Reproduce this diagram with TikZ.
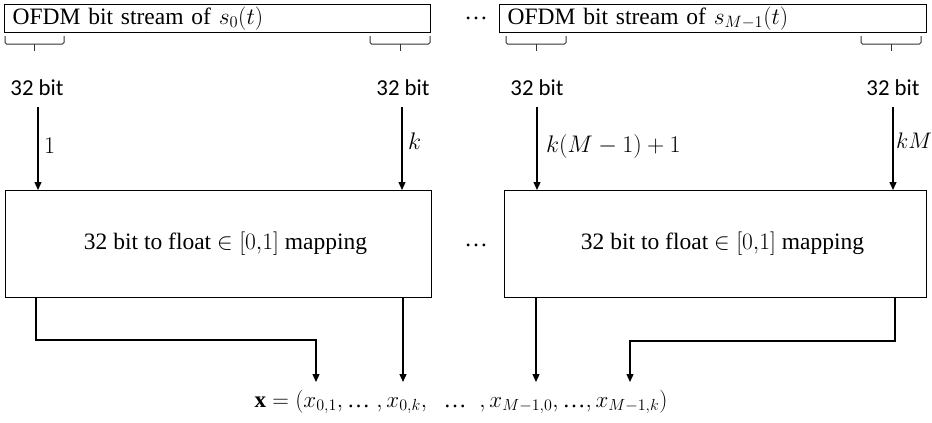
\RequirePackage{fix-cm}
\documentclass[tikz,border=0pt]{standalone}
\usepackage{fontspec}
\setmainfont{Liberation Serif}
\newfontfamily\bitfont{Carlito}
\usetikzlibrary{arrows.meta}

\begin{document}
\begin{tikzpicture}[x=1pt,y=-1pt,
  box/.style={draw, line width=1.1pt, inner sep=0pt, anchor=north west},
  topbox/.style={box, minimum height=28pt, align=left, inner xsep=8pt},
  mapbox/.style={box, minimum height=107pt},
  conn/.style={line width=1.2pt, -{Triangle[length=8pt,width=7pt]}},
  brace/.style={line width=1pt, draw=black!80, rounded corners=1.5pt},
  bitlbl/.style={font=\bitfont\fontsize{22.8}{26}\selectfont, inner sep=0pt},
  txt/.style={font=\fontsize{23.5}{28}\selectfont},
  idx/.style={font=\fontsize{24}{28}\selectfont, inner sep=0pt, anchor=west},
]
\useasboundingbox (0,0) rectangle (932,423);

% bit streams
\node[topbox, txt, minimum width=426pt, text width=410pt] (s0) at (4,4)
  {OFDM bit stream of $s_0(t)$};
\node[topbox, txt, minimum width=427pt, text width=411pt] (s1) at (499,4)
  {OFDM bit stream of $s_{M-1}(t)$};
\node[txt, inner sep=0pt] (dtop) at (476,18) {…};

% 32-bit braces under the streams
\foreach \l/\r/\n in {5/64/b1, 370/430/b2, 506/566/b3, 861/921/b4}{
  \draw[brace] (\l,36) -- (\l,44) -- (\r,44) -- (\r,36);
  \draw[brace] ({(\l+\r)/2},44) -- ({(\l+\r)/2},51);
  \coordinate (\n) at ({(\l+\r)/2},51);
}
\node[bitlbl] (w1) at (37,88) {32 bit};
\node[bitlbl] (w2) at (403,88) {32 bit};
\node[bitlbl] (w3) at (537,88) {32 bit};
\node[bitlbl] (w4) at (893,88) {32 bit};

% mapping blocks
\node[mapbox, minimum width=426pt] (m0) at (5,190) {};
\node[mapbox, minimum width=422pt] (m1) at (504,190) {};
\node[txt, inner sep=0pt] (m0t) at ([xshift=7pt]m0.center)
  {32 bit to float $\in [0{,}1]$ mapping};
\node[txt, inner sep=0pt] (m1t) at ([xshift=7pt]m1.center)
  {32 bit to float $\in [0{,}1]$ mapping};
\node[txt, inner sep=0pt] (dmid) at (476,245) {…};

% inputs of the mapping blocks
\coordinate (a1) at (38,107);
\coordinate (a2) at (402,107);
\coordinate (a3) at (537,107);
\coordinate (a4) at (893,107);
\draw[conn] (a1) -- (a1 |- m0.north);
\draw[conn] (a2) -- (a2 |- m0.north);
\draw[conn] (a3) -- (a3 |- m1.north);
\draw[conn] (a4) -- (a4 |- m1.north);
\node[idx] (i1) at (44,146) {$1$};
\node[idx] (i2) at (408,141) {$k$};
\node[idx] (i3) at (546,146) {$k(M-1)+1$};
\node[idx, font=\fontsize{22.5}{27}\selectfont] (i4) at (896,141) {$kM$};

% output vector
\node[font=\fontsize{23}{27}\selectfont, inner sep=0pt] (vec) at (461,402)
  {$\mathbf{x}=(x_{0,1},\mbox{…}\;,x_{0,k},\;\;\mbox{…}\;\;,x_{M-1,0},\mbox{…},x_{M-1,k})$};

\coordinate (o1) at (36,297);
\coordinate (o2) at (403,297);
\coordinate (o3) at (536,297);
\coordinate (o4) at (895,297);
\coordinate (t1) at (316,382);
\coordinate (t2) at (403,382);
\coordinate (t3) at (536,382);
\coordinate (t4) at (630,382);
\draw[conn] (o1) -- ++(0,43) -| (t1);
\draw[conn] (o2) -- (t2);
\draw[conn] (o3) -- (t3);
\draw[conn] (o4) -- ++(0,44) -| (t4);
\end{tikzpicture}
\end{document}
